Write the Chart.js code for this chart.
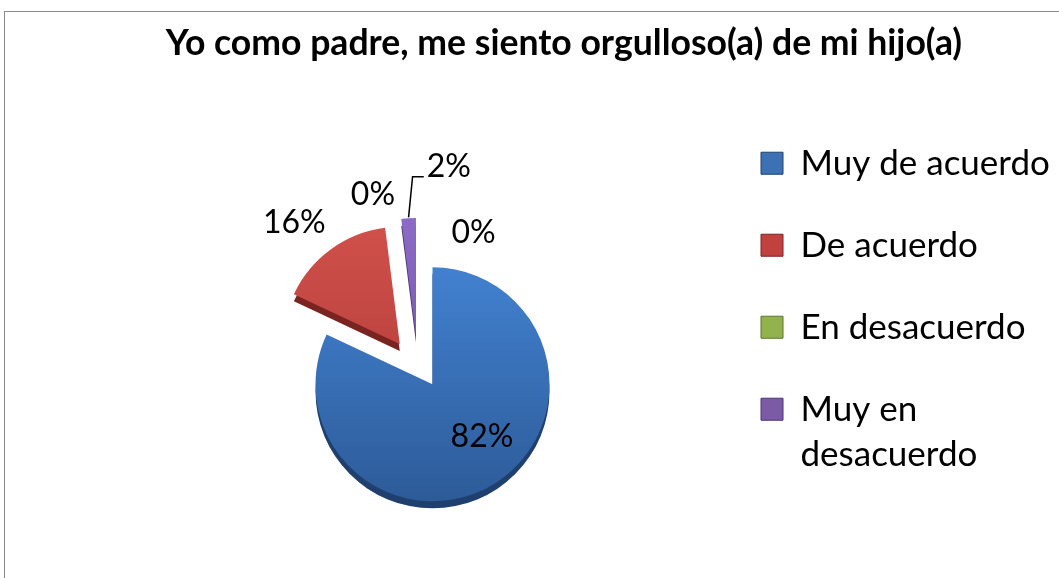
<!DOCTYPE html>
<html>
<head>
<meta charset="utf-8">
<script src="https://cdn.jsdelivr.net/npm/chart.js@4.4.1/dist/chart.umd.min.js"></script>
<style>
  html, body { margin: 0; padding: 0; background: #fff; width: 1059px; height: 578px; overflow: hidden; }
  #frame { position: absolute; left: 4px; top: 11px; width: 1200px; height: 700px; border: 1px solid #8a8a8a; }
  #wrap { position: absolute; left: 0; top: 0; }
</style>
</head>
<body>
<div id="frame"></div>
<div id="wrap"><canvas id="pieChart" width="1059" height="670"></canvas></div>
<script>
// data
const categories = ['Muy de acuerdo', 'De acuerdo', 'En desacuerdo', 'Muy en desacuerdo', ''];
const percentages = [82, 16, 0, 2, 0];

// colours: top face (light -> dark) and the side of each slice
const topLight = ['#4281d0', '#d0504b', '#a3c260', '#8c6bc6', '#4bacc6'];
const topDark = ['#2d5b98', '#ae3936', '#7f9c45', '#6d4ea6', '#31859c'];
const sideColors = ['#1f406e', '#7a2422', '#5d7330', '#4a3472', '#215968'];
const legendColors = ['#3c72b4', '#c0413e', '#91b24d', '#7b5aa6', '#4bacc6'];

const PIE_R = 117;
const DEPTH = 7;
const FONT = 'Lato';

// slices pulled out of the pie (px) and a small turn of the pull direction (deg)
const explode = [{ d: 0 }, { d: 52, turn: -3 }, { d: 52 }, { d: 52, turn: -15 }, { d: 52 }];
// where each percentage label goes: distance along the mid angle and a nudge
const labelPlace = [
  { r: 70, dx: 12, dy: -7 },
  { r: 213, dx: -13, dy: 10 },
  { r: 196, dx: -35, dy: 4 },
  { r: 217, dx: 30, dy: -2, leader: true },
  { r: 152, dx: 41, dy: 0 }
];

function pullVec(arc, i) {
  const e = explode[i] || { d: 0 };
  const mid = (arc.startAngle + arc.endAngle) / 2 + (e.turn || 0) * Math.PI / 180;
  return { x: Math.cos(mid) * e.d, y: Math.sin(mid) * e.d };
}

const pie3d = {
  id: 'pie3d',
  beforeDatasetDraw(chart, args) {
    const ctx = chart.ctx;
    const arcs = args.meta.data;
    // sides first, shifted down
    arcs.forEach((arc, i) => {
      if (arc.circumference === 0) return;
      const v = pullVec(arc, i);
      ctx.save();
      ctx.translate(v.x, v.y + DEPTH);
      ctx.beginPath();
      ctx.moveTo(arc.x, arc.y);
      ctx.arc(arc.x, arc.y, arc.outerRadius, arc.startAngle, arc.endAngle);
      ctx.closePath();
      ctx.fillStyle = sideColors[i];
      ctx.fill();
      ctx.restore();
    });
    arcs.forEach((arc, i) => {
      if (arc.circumference === 0) return;
      const v = pullVec(arc, i);
      ctx.save();
      ctx.translate(v.x, v.y);
      arc.draw(ctx);
      ctx.restore();
    });
    return false;
  }
};

const pieLabels = {
  id: 'pieLabels',
  afterDatasetsDraw(chart) {
    const ctx = chart.ctx;
    const arcs = chart.getDatasetMeta(0).data;
    const size = 32;
    ctx.save();
    ctx.font = size + 'px ' + FONT;
    ctx.fillStyle = '#000';
    ctx.textAlign = 'center';
    ctx.textBaseline = 'alphabetic';
    arcs.forEach((arc, i) => {
      const p = labelPlace[i];
      const mid = (arc.startAngle + arc.endAngle) / 2;
      const x = arc.x + Math.cos(mid) * p.r + p.dx;
      const y = arc.y + Math.sin(mid) * p.r + p.dy;
      const text = percentages[i] + '%';
      ctx.fillText(text, x, y + size * 0.34);
      if (p.leader) {
        const v = pullVec(arc, i);
        const tx = arc.x + v.x + Math.cos(mid) * arc.outerRadius;
        const ty = arc.y + v.y + Math.sin(mid) * arc.outerRadius;
        const w = ctx.measureText(text).width;
        ctx.beginPath();
        ctx.moveTo(tx, ty - 1);
        ctx.lineTo(tx + 4, y + 11);
        ctx.lineTo(x - w / 2 - 3, y + 11);
        ctx.strokeStyle = '#000';
        ctx.lineWidth = 1.5;
        ctx.stroke();
      }
    });
    ctx.restore();
  }
};

// the title sits centred over the whole (wider) chart frame, not over the plot + legend
const titleShift = {
  id: 'titleShift',
  afterLayout(chart, args, opts) {
    const t = chart.titleBlock;
    if (!t) return;
    t.left -= opts.dx;
    t.right -= opts.dx;
  }
};

function wrapWords(ctx, text, maxWidth) {
  const words = text.split(' ');
  const lines = [];
  let line = '';
  words.forEach(w => {
    const test = line ? line + ' ' + w : w;
    if (line && ctx.measureText(test).width > maxWidth) {
      lines.push(line);
      line = w;
    } else {
      line = test;
    }
  });
  lines.push(line);
  return lines.length > 1 ? lines : lines[0];
}

const LEGEND_SIZE = 35;

const ctx = document.getElementById('pieChart');
const myChart = new Chart(ctx, {
  type: 'pie',
  data: {
    labels: categories,
    datasets: [{
      data: percentages,
      backgroundColor: (c) => {
        const i = c.dataIndex;
        const area = c.chart.chartArea;
        if (!area) return topLight[i];
        const cy = (area.top + area.bottom) / 2;
        const g = c.chart.ctx.createLinearGradient(0, cy - PIE_R, 0, cy + PIE_R);
        g.addColorStop(0, topLight[i]);
        g.addColorStop(1, topDark[i]);
        return g;
      },
      borderWidth: 0
    }]
  },
  options: {
    responsive: false,
    animation: false,
    radius: PIE_R,
    layout: { padding: { left: 151, right: 0, top: 0, bottom: 0 } },
    plugins: {
      tooltip: { enabled: false },
      titleShift: { dx: 41 },
      title: {
        display: true,
        text: 'Yo como padre, me siento orgulloso(a) de mi hijo(a)',
        color: '#000',
        font: { family: FONT, size: 35.6, weight: 'bold', lineHeight: 1.2 },
        padding: { top: 22, bottom: 34 }
      },
      legend: {
        position: 'right',
        align: 'start',
        fullSize: false,
        maxWidth: 345,
        labels: {
          color: '#000',
          boxWidth: 22,
          boxHeight: 22,
          padding: 47,
          font: { family: FONT, size: LEGEND_SIZE, lineHeight: 1.286 },
          generateLabels(chart) {
            const c = chart.ctx;
            c.save();
            c.font = LEGEND_SIZE + 'px ' + FONT;
            const items = categories.map((name, i) => ({
              text: wrapWords(c, name, 255),
              fillStyle: legendColors[i],
              strokeStyle: sideColors[i],
              lineWidth: 1,
              hidden: false,
              index: i
            })).filter(it => it.text !== '');
            c.restore();
            return items;
          }
        }
      }
    }
  },
  plugins: [pie3d, pieLabels, titleShift]
});
</script>
</body>
</html>
